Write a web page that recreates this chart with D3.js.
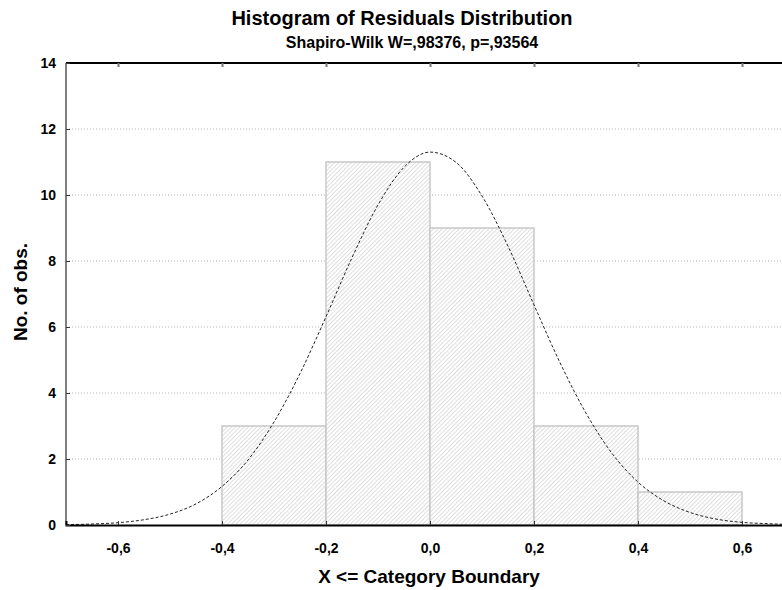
<!DOCTYPE html>
<html>
<head>
<meta charset="utf-8">
<script src="https://cdn.jsdelivr.net/npm/d3@7"></script>
<style>
  body { margin: 0; background: #fff; }
  svg { display: block; font-family: "Liberation Sans", Arial, sans-serif; }
  .tick-label { font-size: 14px; font-weight: bold; fill: #000; }
</style>
</head>
<body>
<svg width="782" height="590"></svg>
<script>
// histogram bins (upper boundaries) and counts
const binEdges = [-0.4, -0.2, 0.0, 0.2, 0.4, 0.6];
const counts = [3, 11, 9, 3, 1];

// expected normal curve
const curveX = [-0.7, -0.65, -0.6, -0.55, -0.5, -0.45, -0.4, -0.35, -0.3, -0.25, -0.2, -0.15, -0.1, -0.05, 0,
  0.05, 0.1, 0.15, 0.2, 0.25, 0.3, 0.35, 0.4, 0.45, 0.5, 0.55, 0.6, 0.65, 0.7];
const curveY = [0.01, 0.03, 0.07, 0.16, 0.33, 0.64, 1.17, 1.97, 3.12, 4.59, 6.31, 8.10, 9.70, 10.84, 11.30,
  10.99, 9.97, 8.45, 6.67, 4.92, 3.39, 2.17, 1.30, 0.73, 0.38, 0.18, 0.08, 0.04, 0.01];

const xTicks = [-0.6, -0.4, -0.2, 0.0, 0.2, 0.4, 0.6];
const yTicks = [0, 2, 4, 6, 8, 10, 12, 14];

const titleText = 'Histogram of Residuals Distribution';
const subtitleText = 'Shapiro-Wilk W=,98376, p=,93564';
const xTitle = 'X <= Category Boundary';
const yTitle = 'No. of obs.';

const svg = d3.select('svg');
const m = { left: 66, right: 794, top: 63, bottom: 525 };

const x = d3.scaleLinear().domain([-0.7, 0.7]).range([m.left, m.right]);
const y = d3.scaleLinear().domain([0, 14]).range([m.bottom, m.top]);

const fmt = d => d3.format('.1f')(d).replace('.', ',').replace('−', '-');

// hatch pattern
const defs = svg.append('defs');
const pat = defs.append('pattern')
  .attr('id', 'hatch')
  .attr('patternUnits', 'userSpaceOnUse')
  .attr('width', 3).attr('height', 3)
  .attr('patternTransform', 'rotate(45)');
pat.append('rect').attr('width', 3).attr('height', 3).attr('fill', '#fff');
pat.append('line')
  .attr('x1', 0).attr('y1', 0).attr('x2', 0).attr('y2', 3)
  .attr('stroke', '#bdbdbd').attr('stroke-width', 1);

defs.append('clipPath').attr('id', 'plotclip')
  .append('rect').attr('x', m.left).attr('y', m.top)
  .attr('width', m.right - m.left).attr('height', m.bottom - m.top);

// grid lines
svg.append('g')
  .selectAll('line')
  .data(yTicks.filter(d => d > 0 && d < 14))
  .enter().append('line')
  .attr('x1', m.left).attr('x2', m.right)
  .attr('y1', d => y(d)).attr('y2', d => y(d))
  .attr('stroke', '#b4b4b4')
  .attr('stroke-width', 1)
  .attr('stroke-dasharray', '1,2');

// bars
const bins = counts.map((c, i) => ({ x0: binEdges[i], x1: binEdges[i + 1], n: c }));
svg.append('g')
  .selectAll('rect')
  .data(bins)
  .enter().append('rect')
  .attr('x', d => x(d.x0))
  .attr('y', d => y(d.n))
  .attr('width', d => x(d.x1) - x(d.x0))
  .attr('height', d => y(0) - y(d.n))
  .attr('fill', 'url(#hatch)')
  .attr('stroke', '#c8c8c8')
  .attr('stroke-width', 1.5);

// normal curve
const line = d3.line()
  .x((d, i) => x(curveX[i]))
  .y(d => y(d))
  .curve(d3.curveMonotoneX);
svg.append('path')
  .datum(curveY)
  .attr('clip-path', 'url(#plotclip)')
  .attr('d', line)
  .attr('fill', 'none')
  .attr('stroke', '#222')
  .attr('stroke-width', 1)
  .attr('stroke-dasharray', '3,2');

// frame
svg.append('line')
  .attr('x1', m.left).attr('x2', m.right).attr('y1', m.top).attr('y2', m.top)
  .attr('stroke', '#000').attr('stroke-width', 2);
svg.append('line')
  .attr('x1', m.left).attr('x2', m.left).attr('y1', m.top).attr('y2', m.bottom)
  .attr('stroke', '#808080').attr('stroke-width', 2);

// axes
const xAxis = d3.axisBottom(x).tickValues(xTicks).tickSize(-4).tickPadding(18).tickFormat(fmt);
const gx = svg.append('g')
  .attr('transform', `translate(0,${m.bottom})`)
  .call(xAxis);
gx.select('.domain').attr('stroke', '#000').attr('stroke-width', 2);
gx.selectAll('.tick line').attr('stroke', '#333');
gx.selectAll('.tick text').attr('class', 'tick-label').attr('dy', '0.71em');

const topAxis = d3.axisTop(x).tickValues(xTicks).tickSize(-4).tickFormat('');
const gt = svg.append('g')
  .attr('transform', `translate(0,${m.top})`)
  .call(topAxis);
gt.select('.domain').remove();
gt.selectAll('.tick line').attr('stroke', '#777').attr('stroke-width', 2);

const yAxis = d3.axisLeft(y).tickValues(yTicks).tickSize(-4).tickPadding(10).tickFormat(d3.format('d'));
const gy = svg.append('g')
  .attr('transform', `translate(${m.left},0)`)
  .call(yAxis);
gy.select('.domain').remove();
gy.selectAll('.tick line').attr('stroke', '#333');
gy.selectAll('.tick text').attr('class', 'tick-label');

// titles
svg.append('text')
  .attr('x', 402).attr('y', 25)
  .attr('text-anchor', 'middle')
  .style('font-size', '20px').style('font-weight', 'bold')
  .text(titleText);
svg.append('text')
  .attr('x', 412).attr('y', 48)
  .attr('text-anchor', 'middle')
  .style('font-size', '16px').style('font-weight', 'bold')
  .text(subtitleText);
svg.append('text')
  .attr('x', 429).attr('y', 583)
  .attr('text-anchor', 'middle')
  .style('font-size', '19px').style('font-weight', 'bold')
  .text(xTitle);
svg.append('text')
  .attr('transform', 'translate(27,292) rotate(-90)')
  .attr('text-anchor', 'middle')
  .style('font-size', '19px').style('font-weight', 'bold')
  .text(yTitle);
</script>
</body>
</html>
